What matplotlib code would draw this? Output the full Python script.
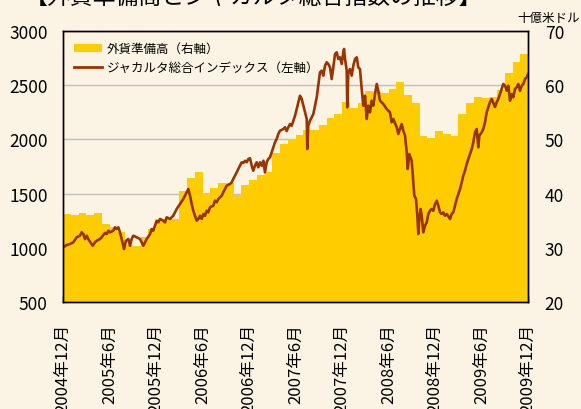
import matplotlib
matplotlib.use('Agg')
import matplotlib.pyplot as plt
from matplotlib.patches import Patch
from matplotlib.lines import Line2D

plt.rcParams['font.family'] = ['Noto Sans CJK JP', 'DejaVu Sans']

# x tick labels (every 6 months, Dec 2004 - Dec 2009)
tick_labels = ['2004年12月', '2005年6月', '2005年12月', '2006年6月', '2006年12月',
               '2007年6月', '2007年12月', '2008年6月', '2008年12月', '2009年6月', '2009年12月']

# foreign reserves, billion USD, one bar per month (right axis)
reserves = [36.3, 36.1, 36.4, 36.1, 36.4, 34.4, 33.9, 32.9, 30.5, 30.4,
            32.0, 33.5, 34.9, 35.3, 35.3, 40.4, 42.8, 44.0, 40.1, 41.0,
            42.0, 42.0, 39.8, 41.5, 42.6, 43.5, 44.0, 47.5, 49.1, 50.0,
            50.8, 51.7, 51.8, 52.6, 54.0, 54.7, 56.9, 55.8, 56.7, 59.0,
            58.8, 58.6, 59.3, 60.5, 58.2, 56.8, 50.6, 50.2, 51.6, 51.0,
            50.7, 54.7, 56.8, 57.8, 57.6, 57.9, 59.2, 62.3, 64.3, 65.8]

# Jakarta composite index (left axis), time in months since Dec 2004
jci_month = [0.04, 0.48, 0.90, 1.33, 1.77, 2.19, 2.41, 2.62, 2.84, 3.06,
             3.26, 3.48, 3.83, 4.13, 4.35, 4.77, 4.99, 5.20, 5.42, 5.64,
             5.85, 6.06, 6.49, 6.71, 6.93, 7.14, 7.35, 7.57, 7.87, 8.13,
             8.43, 8.65, 8.86, 9.07, 9.51, 9.94, 10.36, 10.80, 11.23, 11.45,
             11.65, 11.87, 12.09, 12.30, 12.52, 12.94, 13.16, 13.38, 13.81, 14.23,
             14.45, 14.67, 15.10, 15.52, 15.96, 16.17, 16.39, 16.61, 16.81, 17.03,
             17.25, 17.46, 17.68, 17.90, 18.10, 18.32, 18.54, 18.75, 18.97, 19.39,
             19.61, 19.83, 20.04, 20.26, 20.48, 20.68, 20.90, 21.12, 21.55, 21.77,
             21.97, 22.19, 22.41, 22.62, 22.84, 23.06, 23.26, 23.48, 23.70, 23.91,
             24.13, 24.35, 24.55, 24.77, 24.99, 25.20, 25.42, 25.64, 25.85, 26.06,
             26.28, 26.49, 26.71, 26.93, 27.14, 27.35, 27.57, 27.78, 28.00, 28.43,
             28.65, 28.86, 29.07, 29.29, 29.51, 29.72, 29.94, 30.15, 30.36, 30.58,
             30.80, 31.01, 31.23, 31.45, 31.52, 31.65, 31.87, 32.09, 32.30, 32.52,
             32.74, 32.94, 33.16, 33.38, 33.59, 33.81, 34.03, 34.23, 34.45, 34.67,
             34.88, 35.10, 35.32, 35.52, 35.74, 35.96, 36.17, 36.26, 36.39, 36.61,
             36.68, 36.81, 37.03, 37.25, 37.46, 37.68, 37.90, 38.10, 38.32, 38.54,
             38.75, 38.97, 39.19, 39.39, 39.61, 39.83, 40.04, 40.26, 40.48, 40.68,
             40.90, 41.33, 41.77, 42.19, 42.41, 42.62, 43.06, 43.26, 43.48, 43.70,
             43.91, 44.13, 44.35, 44.48, 44.68, 44.99, 45.20, 45.33, 45.55, 45.72,
             45.85, 45.97, 46.15, 46.28, 46.49, 46.71, 46.93, 47.14, 47.35, 47.57,
             47.78, 48.00, 48.22, 48.43, 48.65, 48.86, 49.07, 49.29, 49.51, 49.72,
             49.94, 50.15, 50.36, 50.58, 50.80, 51.01, 51.23, 51.45, 51.65, 51.87,
             52.09, 52.30, 52.52, 52.74, 52.94, 53.16, 53.38, 53.59, 53.72, 54.03,
             54.23, 54.45, 54.67, 55.10, 55.32, 55.52, 55.74, 55.96, 56.17, 56.39,
             56.81, 57.03, 57.25, 57.46, 57.68, 57.90, 58.10, 58.32, 58.54, 58.75,
             58.97, 59.19, 59.39, 59.61, 59.83, 60.0]
jci_value = [1005, 1026, 1035, 1051, 1097, 1112, 1143, 1127, 1081, 1112,
             1081, 1056, 1019, 1051, 1065, 1081, 1097, 1118, 1137, 1127,
             1158, 1143, 1158, 1189, 1173, 1189, 1143, 1081, 989, 1065,
             1081, 1019, 1081, 1112, 1097, 1081, 1019, 1081, 1127, 1173,
             1158, 1204, 1250, 1235, 1266, 1250, 1235, 1281, 1266, 1296,
             1327, 1358, 1404, 1450, 1512, 1542, 1481, 1404, 1342, 1296,
             1250, 1266, 1296, 1266, 1312, 1296, 1342, 1327, 1374, 1388,
             1435, 1420, 1450, 1466, 1481, 1512, 1542, 1573, 1589, 1604,
             1635, 1665, 1696, 1727, 1757, 1789, 1782, 1803, 1789, 1819,
             1826, 1757, 1711, 1757, 1789, 1743, 1789, 1757, 1803, 1696,
             1789, 1819, 1835, 1881, 1927, 1973, 2004, 2050, 2080, 2096,
             2112, 2077, 2112, 2142, 2126, 2172, 2219, 2280, 2342, 2403,
             2373, 2311, 2250, 2188, 1911, 2126, 2173, 2204, 2234, 2311,
             2388, 2495, 2619, 2634, 2588, 2680, 2711, 2696, 2665, 2557,
             2665, 2788, 2803, 2742, 2757, 2696, 2803, 2834, 2742, 2634,
             2296, 2619, 2649, 2588, 2680, 2742, 2757, 2665, 2649, 2465,
             2311, 2403, 2188, 2311, 2250, 2357, 2311, 2419, 2511, 2449,
             2357, 2327, 2280, 2250, 2158, 2188, 2112, 2050, 2096, 2142,
             2080, 2034, 1881, 1727, 1865, 1803, 1604, 1481, 1450, 1296,
             1127, 1266, 1358, 1296, 1143, 1204, 1235, 1312, 1342, 1358,
             1342, 1404, 1435, 1388, 1327, 1312, 1327, 1296, 1312, 1291,
             1266, 1312, 1327, 1388, 1450, 1496, 1542, 1604, 1665, 1711,
             1773, 1819, 1865, 1911, 1973, 2066, 2096, 1927, 2034, 2066,
             2096, 2158, 2250, 2345, 2373, 2336, 2299, 2342, 2373, 2419,
             2511, 2495, 2449, 2495, 2357, 2419, 2388, 2465, 2481, 2511,
             2449, 2495, 2511, 2557, 2573, 2603]

bg = '#FBF4E4'
bar_color = '#FFCC00'
line_color = '#993300'

fig = plt.figure(figsize=(5.81, 4.10), dpi=100, facecolor=bg)
ax = fig.add_axes([63 / 581, 107 / 410, 465 / 581, 271 / 410])
ax.patch.set_visible(False)

# bars on the right-hand scale
ax.bar(range(len(reserves)), reserves, width=1.0, align='edge',
       color=bar_color, linewidth=0, zorder=2)
ax.set_ylim(20, 70)
ax.set_yticks(range(20, 71, 10))
ax.set_axisbelow(True)
ax.grid(axis='y', color='#C0C0C0', linewidth=1.0, zorder=0)
ax.set_xlim(0, 60)
ax.set_xticks(range(0, 61, 6))
ax.set_xticklabels(tick_labels, rotation=90, fontsize=12)
ax.tick_params(axis='x', direction='in', length=4, width=1, pad=15)

# index line on the left-hand scale
ax2 = ax.twinx()
ax2.patch.set_visible(False)
ax2.plot(jci_month, jci_value, color=line_color, linewidth=1.9)
ax2.set_ylim(500, 3000)
ax2.set_yticks(range(500, 3001, 500))
ax2.yaxis.tick_left()
ax2.tick_params(axis='y', length=0, pad=11, labelsize=12.5)

# twinx moves the first axis to the left, so put it back on the right
ax.yaxis.tick_right()
ax.tick_params(axis='y', length=0, pad=12, labelsize=12.5)

for a in (ax, ax2):
    for s in a.spines.values():
        s.set_linewidth(1.0)
        s.set_color('black')

# legend sits on the bar axes so it hides the grid but not the line
handles = [Patch(facecolor=bar_color, edgecolor='none'),
           Line2D([0], [0], color=line_color, linewidth=2.0)]
labels = ['外貨準備高（右軸）', 'ジャカルタ総合インデックス（左軸）']
leg = ax.legend(handles, labels, loc='upper left', fontsize=9,
                frameon=True, facecolor=bg, edgecolor='none', framealpha=1,
                fancybox=False, borderaxespad=0.4, borderpad=0.5,
                handlelength=2.2, handletextpad=0.4, labelspacing=0.45)

fig.text(517 / 581, 1 - 18.5 / 410, '十億米ドル', fontsize=9, ha='left', va='center')
fig.text(253 / 581, 1 + 3 / 410, '【外貨準備高とジャカルタ総合指数の推移】',
         fontsize=16.5, ha='center', va='center')

fig.savefig('out.png', dpi=100, facecolor=bg)
